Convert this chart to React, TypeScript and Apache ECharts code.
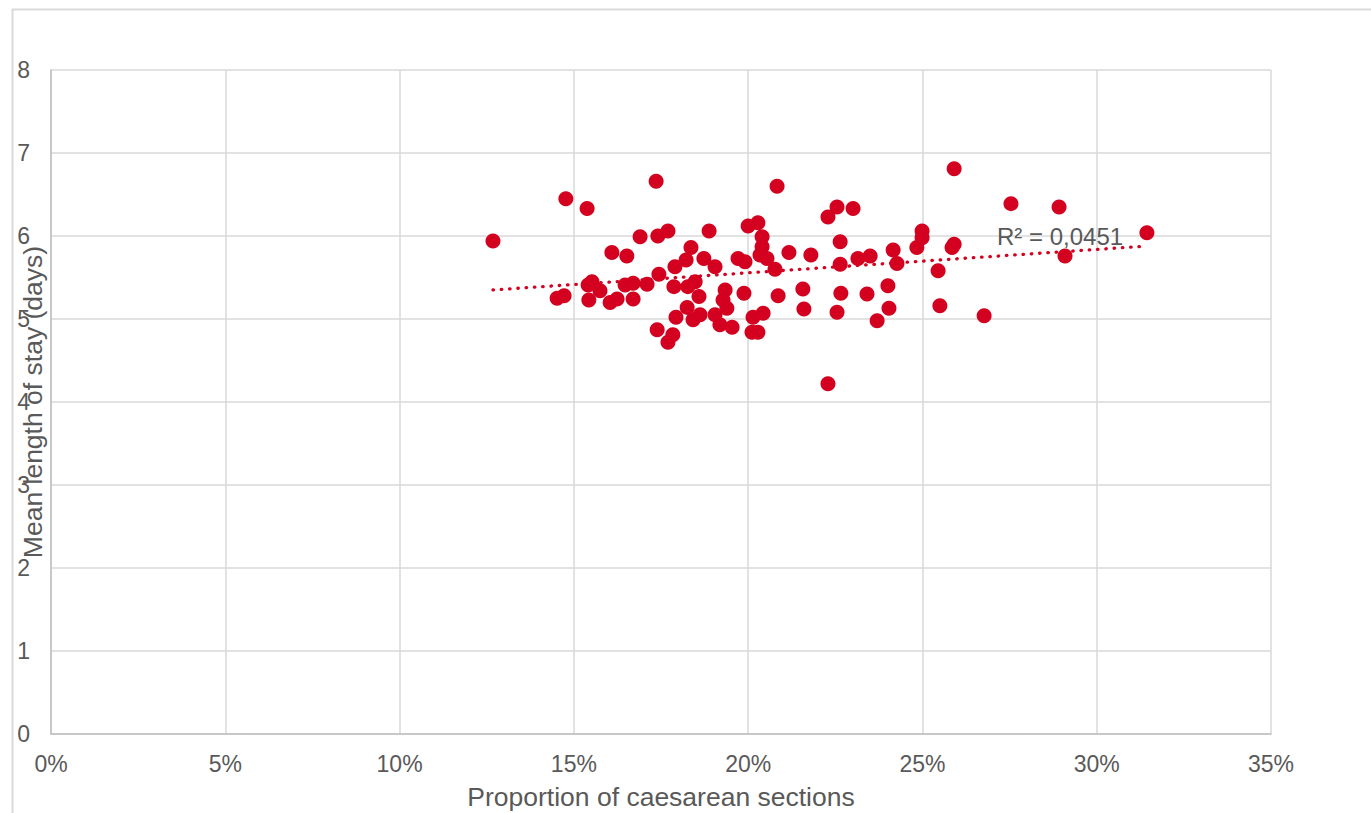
import React, { useEffect, useRef } from "react";
import * as echarts from "echarts";

// Proportion of caesarean sections (%)
const caesareanPct = [
  12.68, 14.77, 15.38, 14.52, 14.72, 15.41, 15.52, 15.43, 15.75, 16.04,
  16.24, 16.09, 16.52, 16.47, 16.7, 16.7, 16.9, 17.1, 17.36, 17.41,
  17.7, 17.44, 17.39, 17.7, 17.84, 17.93, 17.9, 17.87, 18.22, 18.36,
  18.27, 18.48, 18.25, 18.42, 18.59, 18.62, 18.73, 18.88, 19.05, 19.05,
  19.19, 19.34, 19.28, 19.39, 19.54, 19.71, 19.91, 19.88, 20.0, 20.28,
  20.4, 20.4, 20.34, 20.54, 20.77, 20.14, 20.43, 20.11, 20.28, 20.83,
  20.86, 21.17, 21.57, 21.6, 21.8, 22.29, 22.55, 23.01, 22.29, 22.64,
  22.64, 22.66, 22.55, 23.15, 23.5, 23.41, 23.7, 24.01, 24.04, 24.16,
  24.27, 24.84, 24.99, 24.99, 25.45, 25.5, 25.91, 25.85, 25.91, 26.77,
  27.54, 28.92, 29.09, 31.44,
];

// Mean length of stay (days)
const lengthOfStay = [
  5.94, 6.45, 6.33, 5.25, 5.28, 5.41, 5.45, 5.23, 5.34, 5.2,
  5.24, 5.8, 5.76, 5.41, 5.43, 5.24, 5.99, 5.42, 6.66, 6.0,
  6.06, 5.54, 4.87, 4.72, 4.81, 5.02, 5.63, 5.39, 5.71, 5.86,
  5.39, 5.45, 5.14, 4.99, 5.27, 5.05, 5.73, 6.06, 5.63, 5.05,
  4.93, 5.35, 5.23, 5.13, 4.9, 5.73, 5.69, 5.31, 6.12, 6.16,
  5.99, 5.87, 5.77, 5.73, 5.6, 5.02, 5.07, 4.84, 4.84, 6.6,
  5.28, 5.8, 5.36, 5.12, 5.77, 6.23, 6.35, 6.33, 4.22, 5.93,
  5.66, 5.31, 5.08, 5.73, 5.76, 5.3, 4.98, 5.4, 5.13, 5.83,
  5.67, 5.86, 6.06, 5.98, 5.58, 5.16, 6.81, 5.86, 5.9, 5.04,
  6.39, 6.35, 5.76, 6.04,
];

const xAxisTitle = "Proportion of caesarean sections";
const yAxisTitle = "Mean length of stay (days)";
const r2Label = "R² = 0,0451";

const RED = "#d4001f";
const TEXT = "#595959";
const GRID = "#d9d9d9";
const AXIS = "#bfbfbf";
const FONT = "'Liberation Sans', Arial, sans-serif";

function trend() {
  const n = caesareanPct.length;
  let sx = 0, sy = 0, sxx = 0, sxy = 0;
  for (let i = 0; i < n; i++) {
    const x = caesareanPct[i];
    const y = lengthOfStay[i];
    sx += x; sy += y; sxx += x * x; sxy += x * y;
  }
  const slope = (n * sxy - sx * sy) / (n * sxx - sx * sx);
  const intercept = (sy - slope * sx) / n;
  const xmin = Math.min(...caesareanPct);
  const xmax = Math.max(...caesareanPct);
  return [
    [xmin, intercept + slope * xmin],
    [xmax, intercept + slope * xmax],
  ];
}

export default function App() {
  const ref = useRef<HTMLDivElement>(null);
  useEffect(() => {
    if (!ref.current) return;
    const chart = echarts.init(ref.current, undefined, { renderer: "svg" });
    const points = caesareanPct.map((x, i) => [x, lengthOfStay[i]]);
    chart.setOption({
      animation: false,
      backgroundColor: "#ffffff",
      textStyle: { fontFamily: FONT },
      grid: {
        left: 51,
        right: 100,
        top: 70,
        bottom: 79,
        containLabel: false,
        outerBoundsMode: "none",
      },
      xAxis: {
        type: "value",
        min: 0,
        max: 35,
        interval: 5,
        name: xAxisTitle,
        nameLocation: "middle",
        nameGap: 49,
        nameMoveOverlap: false,
        nameTextStyle: { color: TEXT, fontSize: 26.5, fontFamily: FONT },
        axisLine: { show: true, onZero: false, lineStyle: { color: AXIS, width: 1.5 } },
        axisTick: { show: false },
        axisLabel: {
          formatter: "{value}%",
          color: TEXT,
          fontSize: 23,
          fontFamily: FONT,
          margin: 18,
        },
        splitLine: { show: true, lineStyle: { color: GRID, width: 1.5 } },
      },
      yAxis: {
        type: "value",
        min: 0,
        max: 8,
        interval: 1,
        name: yAxisTitle,
        nameLocation: "middle",
        nameGap: 5,
        nameRotate: 90,
        nameMoveOverlap: false,
        nameTextStyle: { color: TEXT, fontSize: 26.5, fontFamily: FONT },
        axisLine: { show: true, lineStyle: { color: AXIS, width: 1.5 } },
        axisTick: { show: false },
        axisLabel: { color: TEXT, fontSize: 23, fontFamily: FONT, margin: 21 },
        splitLine: { show: true, lineStyle: { color: GRID, width: 1.5 } },
      },
      graphic: [
        {
          type: "line",
          shape: { x1: 12, y1: 9.5, x2: 1371, y2: 9.5 },
          style: { stroke: GRID, lineWidth: 2 },
          silent: true,
        },
        {
          type: "line",
          shape: { x1: 12.5, y1: 9, x2: 12.5, y2: 813 },
          style: { stroke: GRID, lineWidth: 2 },
          silent: true,
        },
        {
          type: "text",
          x: 997,
          y: 236,
          style: {
            text: r2Label,
            fill: TEXT,
            fontSize: 24,
            fontFamily: FONT,
            verticalAlign: "middle",
            align: "left",
          },
          silent: true,
          z: 10,
        },
      ],
      series: [
        {
          type: "scatter",
          data: points,
          symbol: "circle",
          symbolSize: 15,
          itemStyle: { color: RED, opacity: 1 },
          z: 2,
        },
        {
          type: "line",
          data: trend(),
          symbol: "none",
          silent: true,
          lineStyle: { color: RED, width: 3.3, type: [0.5, 7.8], cap: "round" },
          z: 3,
        },
      ],
    });
    return () => chart.dispose();
  }, []);
  return (
    <div
      ref={ref}
      style={{ position: "fixed", left: 0, top: 0, width: 1371, height: 813 }}
    />
  );
}
